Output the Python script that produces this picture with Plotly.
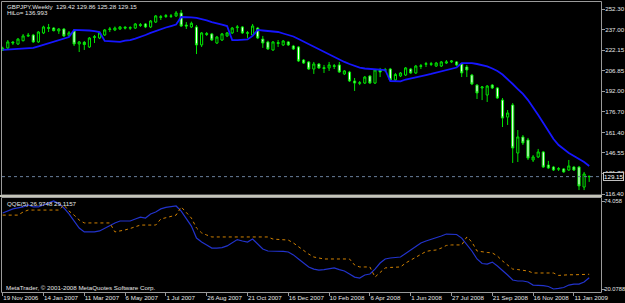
import pandas as pd
import plotly.graph_objects as go

# ---------------- data ----------------
dates = pd.date_range("2006-11-19", periods=116, freq="7D")

opens = [222.2, 223.7, 228.0, 226.6, 229.0, 232.4, 233.2, 228.1, 234.7, 238.6,
         238.3, 236.2, 237.6, 233.0, 236.1, 226.6, 227.8, 224.4, 231.4, 231.0,
         233.2, 237.2, 236.9, 237.6, 238.9, 238.2, 238.3, 240.8, 241.3, 239.1,
         242.7, 246.6, 246.8, 247.2, 247.2, 249.4, 240.5, 239.1, 239.1, 225.9,
         234.2, 234.0, 227.3, 229.5, 232.5, 234.7, 238.6, 239.1, 234.4, 233.2,
         238.3, 230.2, 228.1, 222.2, 227.6, 225.9, 228.1, 225.1, 224.4, 214.8,
         213.4, 208.2, 211.9, 209.2, 209.0, 210.6, 211.2, 204.6, 206.0, 199.4,
         197.7, 197.9, 203.1, 197.9, 207.5, 207.3, 208.2, 200.2, 203.1, 203.8,
         208.2, 205.3, 210.6, 211.7, 212.1, 210.4, 210.4, 212.6, 213.4, 213.4,
         211.9, 209.7, 203.8, 196.4, 194.3, 189.1, 196.4, 194.3, 185.4, 172.9,
         181.8, 146.5, 158.3, 156.1, 141.4, 143.6, 147.3, 137.7, 136.2, 134.6,
         134.8, 134.0, 136.2, 136.2, 121.5, 129.42]
highs = [224.6, 229.5, 228.8, 231.0, 233.9, 234.7, 234.0, 236.1, 240.0, 241.3,
         239.0, 238.3, 238.3, 236.1, 237.6, 228.8, 228.8, 231.7, 233.2, 235.4,
         237.6, 239.1, 239.4, 239.8, 239.8, 239.6, 242.0, 242.0, 242.0, 244.2,
         247.9, 247.9, 248.6, 248.6, 250.8, 251.6, 242.7, 243.0, 240.5, 235.4,
         235.4, 234.7, 232.5, 234.7, 235.4, 239.1, 240.5, 239.8, 236.1, 241.3,
         239.1, 232.5, 229.0, 228.8, 229.5, 229.5, 228.8, 225.9, 225.1, 215.5,
         214.1, 213.4, 212.6, 211.2, 213.4, 211.9, 213.4, 207.5, 206.8, 201.6,
         199.4, 203.1, 203.8, 208.2, 209.0, 209.0, 209.0, 205.3, 206.0, 209.7,
         209.0, 211.2, 211.9, 213.4, 213.4, 213.4, 214.1, 214.8, 214.8, 214.1,
         212.6, 211.2, 204.6, 197.2, 195.7, 196.4, 197.2, 195.0, 186.9, 178.1,
         183.2, 163.4, 159.7, 157.6, 145.0, 149.5, 148.0, 140.7, 137.0, 136.2,
         135.5, 141.4, 137.0, 137.0, 132.6, 129.86]
lows = [221.5, 222.9, 225.9, 225.9, 228.5, 231.7, 227.4, 227.4, 233.9, 235.4,
        235.8, 234.0, 231.7, 232.0, 225.1, 220.7, 222.2, 223.7, 227.3, 230.2,
        232.5, 235.4, 236.1, 236.9, 237.3, 237.0, 237.6, 239.1, 238.3, 238.3,
        242.0, 244.2, 245.7, 245.7, 246.4, 239.1, 237.6, 238.3, 219.2, 224.4,
        232.5, 228.8, 226.6, 228.8, 231.7, 234.0, 235.4, 234.0, 231.0, 232.5,
        230.2, 223.7, 222.2, 221.5, 224.4, 225.1, 225.1, 222.2, 213.4, 211.9,
        207.5, 204.6, 208.2, 205.3, 206.8, 208.2, 205.3, 203.8, 198.7, 192.1,
        196.4, 197.2, 197.2, 197.2, 202.3, 206.0, 199.4, 199.4, 202.3, 203.1,
        204.6, 204.6, 208.2, 209.7, 210.4, 209.7, 209.7, 211.9, 212.6, 210.4,
        202.3, 202.3, 196.4, 186.2, 185.4, 184.0, 193.5, 186.2, 165.6, 167.1,
        139.2, 139.9, 152.4, 141.4, 139.9, 142.8, 135.5, 134.8, 133.3, 133.3,
        131.9, 133.3, 133.3, 119.3, 119.3, 125.28]
closes = [223.4, 228.1, 227.4, 230.2, 232.5, 233.0, 228.1, 235.4, 239.1, 238.2,
          236.4, 237.6, 232.5, 234.8, 226.6, 228.1, 226.2, 231.0, 231.9, 234.7,
          236.9, 237.6, 238.3, 239.1, 238.3, 238.6, 241.3, 240.3, 239.1, 243.5,
          247.2, 246.2, 247.4, 247.0, 249.4, 239.8, 239.8, 241.8, 225.9, 234.7,
          233.7, 229.5, 231.7, 234.0, 234.7, 238.3, 239.1, 234.7, 234.9, 239.8,
          231.0, 227.3, 222.9, 228.1, 227.0, 228.8, 225.9, 222.9, 214.1, 212.6,
          208.2, 211.9, 209.0, 208.6, 211.2, 210.2, 206.0, 206.8, 199.4, 197.9,
          198.1, 202.3, 197.9, 207.5, 206.0, 207.7, 200.2, 204.2, 205.3, 209.0,
          205.3, 210.4, 210.2, 212.1, 211.7, 212.6, 213.4, 213.4, 214.1, 211.2,
          205.3, 207.5, 197.2, 190.6, 195.0, 195.7, 194.3, 186.9, 172.2, 175.9,
          150.2, 158.3, 153.9, 142.8, 143.6, 147.3, 136.2, 135.5, 134.0, 135.0,
          132.6, 137.0, 134.0, 122.3, 131.1, 129.15]
hilo = [222.2, 222.4, 222.6, 222.8, 223.1, 223.3, 223.7, 224.8, 225.9, 227.3,
        228.4, 229.5, 230.6, 231.7, 236.9, 236.9, 236.7, 236.5, 236.1, 235.4,
        228.8, 228.4, 228.1, 228.1, 229.0, 229.5, 230.6, 231.7, 233.2, 234.7,
        236.1, 237.6, 238.7, 239.8, 240.9, 246.4, 246.4, 246.1, 245.7, 245.0,
        243.9, 242.7, 242.0, 240.9, 239.8, 229.5, 229.5, 229.5, 229.9, 232.5,
        236.9, 236.5, 236.1, 235.8, 235.4, 234.3, 233.2, 232.1, 230.3, 228.4,
        226.6, 224.4, 222.5, 220.7, 218.9, 217.0, 215.2, 213.4, 211.9, 210.4,
        209.3, 208.6, 208.2, 207.9, 207.5, 207.5, 199.4, 199.1, 199.1, 200.5,
        201.2, 202.3, 203.1, 203.8, 204.6, 205.6, 206.4, 207.5, 208.2, 209.3,
        212.6, 212.8, 212.6, 211.9, 211.2, 210.1, 208.6, 206.8, 204.2, 200.9,
        197.2, 193.5, 189.9, 185.4, 180.3, 174.4, 168.6, 162.7, 156.8, 152.4,
        149.1, 146.5, 144.3, 142.1, 139.9, 136.993]
qqe_main = [66.7, 67.9, 69.2, 69.8, 70.4, 71.6, 70.4, 70.4, 71.6, 72.9,
            74.058, 72.5, 69.8, 66.1, 61.8, 57.5, 55.1, 55.1, 55.1, 55.7,
            57.5, 59.3, 60.6, 61.8, 61.8, 61.8, 63.0, 64.2, 63.6, 66.1,
            67.3, 69.2, 70.1, 70.7, 71.0, 67.9, 63.6, 58.7, 51.3, 48.9,
            47.1, 45.2, 45.2, 45.5, 46.5, 48.3, 50.4, 49.5, 48.9, 50.7,
            47.7, 44.6, 43.4, 43.4, 43.1, 43.1, 42.8, 41.0, 38.5, 36.0,
            33.6, 32.3, 31.7, 32.0, 32.6, 33.0, 32.0, 31.1, 29.3, 27.4,
            26.8, 28.7, 29.3, 32.3, 36.0, 38.5, 39.1, 39.4, 39.7, 41.9,
            44.0, 46.1, 48.3, 49.5, 50.4, 51.3, 52.6, 53.8, 53.8, 53.5,
            51.3, 47.7, 43.4, 38.5, 35.7, 35.4, 36.6, 34.2, 31.7, 28.7,
            25.6, 25.0, 25.0, 24.4, 22.5, 22.5, 22.2, 21.6, 20.0788, 20.5,
            21.0, 22.5, 23.1, 23.1, 24.4, 26.9748]
qqe_trail = [65.4, 65.4, 65.4, 65.4, 67.3, 68.5, 68.5, 68.5, 68.5, 68.5,
             68.5, 68.5, 71.6, 67.9, 65.4, 62.4, 60.6, 60.6, 60.6, 60.6,
             60.6, 60.6, 55.1, 55.6, 56.3, 57.2, 58.1, 59.3, 59.3, 59.3,
             59.3, 63.0, 63.9, 64.9, 65.4, 70.4, 66.7, 63.6, 57.5, 54.5,
             53.2, 52.0, 52.0, 52.0, 52.0, 52.0, 52.0, 52.0, 52.0, 52.0,
             52.0, 52.0, 52.0, 50.7, 50.4, 50.1, 50.1, 48.3, 45.9, 44.0,
             41.5, 39.7, 39.1, 38.5, 38.5, 38.5, 38.5, 38.5, 38.5, 34.8,
             33.6, 33.6, 33.6, 27.4, 30.5, 33.0, 33.3, 33.6, 33.6, 36.0,
             37.9, 39.7, 41.5, 43.1, 43.7, 44.0, 45.2, 46.8, 47.1, 47.1,
             47.1, 52.0, 48.9, 43.4, 42.8, 42.5, 42.2, 40.3, 37.3, 34.8,
             32.3, 32.0, 31.7, 31.1, 29.9, 29.9, 29.9, 29.9, 29.9, 28.4,
             28.8, 28.8, 28.8, 28.8, 29.1, 29.1157]

price_ticks = [252.30, 237.00, 222.15, 206.85, 192.00, 176.70, 161.40, 146.55, 131.70, 116.40]
price_tick_labels = ["252.30", "237.00", "222.15", "206.85", "192.00", "176.70",
                     "161.40", "146.55", "131.70", "116.40"]
qqe_ticks = [74.058, 20.0788]
qqe_tick_labels = ["74.058", "20.0788"]
date_ticks = ["2006-11-19", "2007-01-14", "2007-03-11", "2007-05-06", "2007-07-01",
              "2007-08-26", "2007-10-21", "2007-12-16", "2008-02-10", "2008-04-06",
              "2008-06-01", "2008-07-27", "2008-09-21", "2008-11-16", "2009-01-11"]
date_tick_labels = ["19 Nov 2006", "14 Jan 2007", "11 Mar 2007", "6 May 2007", "1 Jul 2007",
                    "26 Aug 2007", "21 Oct 2007", "16 Dec 2007", "10 Feb 2008", "6 Apr 2008",
                    "1 Jun 2008", "27 Jul 2008", "21 Sep 2008", "16 Nov 2008", "11 Jan 2009"]

# ---------------- layout helpers ----------------
W, H = 625, 303
FONT = "Liberation Sans"
TXT = "#e6e6e6"
FRAME = "#9a9a9a"
GREEN = "#00e400"


def px(xp):
    return xp / W


def py(yp):
    return 1 - yp / H


fig = go.Figure()
fig.add_trace(go.Candlestick(
    x=dates, open=opens, high=highs, low=lows, close=closes,
    increasing=dict(line=dict(color=GREEN, width=1), fillcolor="#000000"),
    decreasing=dict(line=dict(color=GREEN, width=1), fillcolor="#ffffff"),
    whiskerwidth=0, showlegend=False, hoverinfo="skip", xaxis="x", yaxis="y"))
fig.add_trace(go.Scatter(x=dates, y=hilo, mode="lines", line=dict(color="#1616ff", width=1.8),
                         showlegend=False, hoverinfo="skip", xaxis="x", yaxis="y"))
fig.add_trace(go.Scatter(x=dates, y=qqe_main, mode="lines", line=dict(color="#2233cc", width=1.2),
                         showlegend=False, hoverinfo="skip", xaxis="x", yaxis="y2"))
fig.add_trace(go.Scatter(x=dates, y=qqe_trail, mode="lines",
                         line=dict(color="#d08000", width=1, dash="dot"),
                         showlegend=False, hoverinfo="skip", xaxis="x", yaxis="y2"))

# pixel geometry of the MetaTrader window
X_LEFT, X_RIGHT = 2, 601
MAIN_TOP, MAIN_BOT = 2, 195
SUB_TOP, SUB_BOT = 198, 292
BAR0_PX, BAR_STEP = 2.7, 5.1
start = dates[0]
x_lo = start + pd.Timedelta(days=7 * (X_LEFT - BAR0_PX) / BAR_STEP)
x_hi = start + pd.Timedelta(days=7 * (X_RIGHT - BAR0_PX) / BAR_STEP)

# price axis pixel mapping (252.30 @ y=9, 116.40 @ y=194)
p_per_px = (252.30 - 116.40) / (194 - 9)
main_range = [116.40 - (MAIN_BOT - 194) * p_per_px, 252.30 + (9 - MAIN_TOP) * p_per_px]
# QQE axis mapping (74.058 @ y=201, 20.0788 @ y=289)
q_per_px = (74.058 - 20.0788) / (289 - 201)
sub_range = [20.0788 - (SUB_BOT - 289) * q_per_px, 74.058 + (201 - SUB_TOP) * q_per_px]

tickfont = dict(family=FONT, size=6.2, color=TXT)
tickfont_small = dict(family=FONT, size=5.8, color=TXT)

fig.update_layout(
    width=W, height=H, margin=dict(l=0, r=0, t=0, b=0, autoexpand=False),
    paper_bgcolor="#000000", plot_bgcolor="#000000",
    boxgap=0.4, hovermode=False, showlegend=False,
    xaxis=dict(domain=[px(X_LEFT), px(X_RIGHT)], range=[x_lo, x_hi], type="date",
               anchor="y2", rangeslider=dict(visible=False), showgrid=False, zeroline=False,
               showline=False, tickmode="array", tickvals=date_ticks, ticktext=date_tick_labels,
               ticks="outside", ticklen=3, tickcolor=FRAME, tickwidth=1, tickangle=0,
               automargin=False, ticklabelposition="outside right", tickfont=tickfont),
    yaxis=dict(domain=[py(MAIN_BOT), py(MAIN_TOP)], range=main_range, side="right",
               anchor="x", showgrid=False, zeroline=False, showline=False, automargin=False,
               tickmode="array", tickvals=price_ticks, ticktext=price_tick_labels,
               ticks="outside", ticklen=3, tickcolor=FRAME, tickfont=tickfont,
               ticklabelstandoff=-1),
    yaxis2=dict(domain=[py(SUB_BOT), py(SUB_TOP)], range=sub_range, side="right",
                anchor="x", showgrid=False, zeroline=False, showline=False, automargin=False,
                tickmode="array", tickvals=qqe_ticks, ticktext=qqe_tick_labels,
                ticks="outside", ticklen=3, tickcolor=FRAME, tickfont=tickfont_small,
                ticklabelstandoff=-2),
)

shapes = [
    # main window frame
    dict(type="rect", xref="paper", yref="paper", x0=px(1.5), x1=px(601.5),
         y0=py(195), y1=py(1.5), line=dict(color=FRAME, width=1)),
    # indicator window frame
    dict(type="rect", xref="paper", yref="paper", x0=px(1.5), x1=px(601.5),
         y0=py(292.5), y1=py(197.5), line=dict(color=FRAME, width=1)),
    # window separator
    dict(type="line", xref="paper", yref="paper", x0=0, x1=px(602),
         y0=py(196), y1=py(196), line=dict(color="#c4c4b8", width=2)),
    # bid line
    dict(type="line", xref="paper", yref="y", x0=px(X_LEFT), x1=px(X_RIGHT),
         y0=closes[-1], y1=closes[-1], line=dict(color="#6a7f9c", width=1, dash="dot")),
]
fig.update_layout(shapes=shapes)

anns = [
    dict(text="GBPJPY,Weekly  %.2f %.2f %.2f %.2f" % (opens[-1], highs[-1], lows[-1], closes[-1]),
         x=px(5), y=py(6.5)),
    dict(text="HiLo= %.3f" % hilo[-1], x=px(5), y=py(13)),
    dict(text="QQE(5) %.4f %.4f" % (qqe_main[-1], qqe_trail[-1]), x=px(5), y=py(203)),
    dict(text="MetaTrader, \u00a9 2001-2008 MetaQuotes Software Corp.", x=px(4), y=py(287)),
]
annotations = []
for a in anns:
    annotations.append(dict(a, xref="paper", yref="paper", xanchor="left", yanchor="middle",
                            showarrow=False, font=dict(family=FONT, size=6.2, color=TXT)))
annotations.append(dict(text="%.2f" % closes[-1], xref="paper", yref="y", x=px(603), y=closes[-1],
                        xanchor="left", yanchor="middle", showarrow=False,
                        font=dict(family=FONT, size=6.2, color="#ffffff"),
                        bgcolor="#000000", bordercolor="#c0c0c0", borderwidth=1, borderpad=0))
fig.update_layout(annotations=annotations)

fig.write_html("out.html", config={"displayModeBar": False})
